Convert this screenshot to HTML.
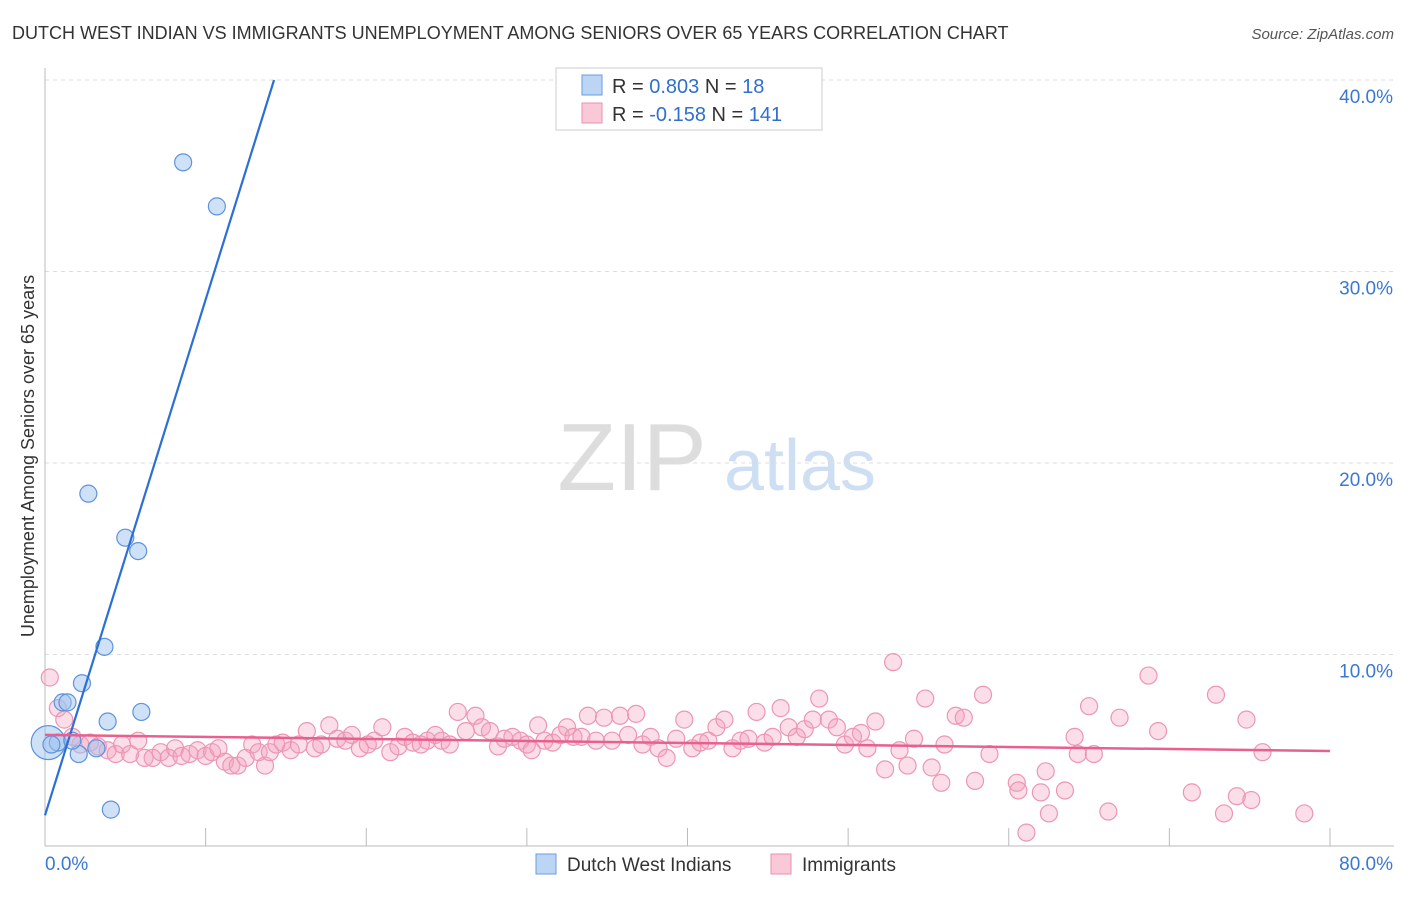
<!DOCTYPE html>
<html><head><meta charset="utf-8"><style>
body{margin:0;background:#fff;font-family:"Liberation Sans",sans-serif;}
svg text{font-family:"Liberation Sans",sans-serif;}
</style></head><body>
<svg id="c" width="1406" height="892">
<text x="12" y="39" font-size="18" fill="#333">DUTCH WEST INDIAN VS IMMIGRANTS UNEMPLOYMENT AMONG SENIORS OVER 65 YEARS CORRELATION CHART</text>
<text x="1394" y="39" font-size="15" fill="#555" font-style="italic" text-anchor="end">Source: ZipAtlas.com</text>
<text x="632" y="490" font-size="96" fill="#ddd" font-family="Liberation Serif" text-anchor="middle">ZIP</text>
<text x="800" y="490" font-size="72" fill="#cfdff3" text-anchor="middle">atlas</text>
<g id="grid"></g>
<g id="pts"></g>
<g id="lines"></g>
<text transform="translate(34,456) rotate(-90)" font-size="18" fill="#333" text-anchor="middle">Unemployment Among Seniors over 65 years</text>
<g>
<rect x="556" y="68" width="266" height="62" fill="#fff" stroke="#ccc"/>
<rect x="582" y="75" width="20" height="20" fill="#bcd5f5" stroke="#6a9de0"/>
<rect x="582" y="103" width="20" height="20" fill="#f9c9d8" stroke="#e890ae"/>
<text x="612" y="93" font-size="20" fill="#333">R = <tspan fill="#2f6fd0">0.803</tspan>   N = <tspan fill="#2f6fd0"> 18</tspan></text>
<text x="612" y="121" font-size="20" fill="#333">R = <tspan fill="#2f6fd0">-0.158</tspan>   N = <tspan fill="#2f6fd0">141</tspan></text>
</g>
<g>
<rect x="536" y="854" width="20" height="20" fill="#bcd5f5" stroke="#6a9de0"/>
<text x="567" y="871" font-size="19" fill="#333">Dutch West Indians</text>
<rect x="771" y="854" width="20" height="20" fill="#f9c9d8" stroke="#e890ae"/>
<text x="802" y="871" font-size="19" fill="#333">Immigrants</text>
</g>
</svg>
<script>
const xTicks=[0,10,20,30,40,50,60,70,80];
const yTicks=[10,20,30,40];
const blueX=[0.2,0.8,1.1,1.4,2.1,2.3,2.7,3.2,3.7,3.9,4.1,5.0,5.8,6.0,8.6,10.7,1.7,0.4];
const blueY=[5.4,5.4,7.5,7.5,4.8,8.5,18.4,5.1,10.4,6.5,1.9,16.1,15.4,7.0,35.7,33.4,5.5,5.3];
const pinkX=[0.3,0.8,1.2,1.7,2.2,2.8,3.3,3.9,4.4,4.8,5.3,5.8,6.2,6.7,7.2,7.7,8.1,8.5,9.0,9.5,10.0,10.4,10.8,11.2,11.6,12.0,12.5,12.9,13.3,13.7,14.0,14.4,14.8,15.3,15.8,16.3,16.8,17.2,17.7,18.2,18.7,19.1,19.6,20.1,20.5,21.0,21.5,22.0,22.4,22.9,23.4,23.8,24.3,24.7,25.2,25.7,26.2,26.8,27.2,27.7,28.2,28.6,29.1,29.6,30.0,30.3,30.7,31.1,31.6,32.1,32.5,32.9,33.4,33.8,34.3,34.8,35.3,35.8,36.3,36.8,37.2,37.7,38.2,38.7,39.3,39.8,40.3,40.8,41.3,41.8,42.3,42.8,43.3,43.8,44.3,44.8,45.3,45.8,46.3,46.8,47.3,47.8,48.2,48.8,49.3,49.8,50.3,50.8,51.2,51.7,52.3,52.8,53.2,53.7,54.1,54.8,55.2,55.8,56.0,56.7,57.2,57.9,58.4,58.8,60.5,60.6,61.1,62.0,62.3,62.5,63.5,64.1,64.3,65.0,65.3,66.2,66.9,68.7,69.3,71.4,72.9,73.4,74.2,74.8,75.1,75.8,78.4];
const pinkY=[8.8,7.2,6.6,5.7,5.3,5.4,5.2,5.0,4.8,5.3,4.8,5.5,4.6,4.6,4.9,4.6,5.1,4.7,4.8,5.0,4.7,4.9,5.1,4.4,4.2,4.2,4.6,5.3,4.9,4.2,4.9,5.3,5.4,5.0,5.3,6.0,5.1,5.3,6.3,5.6,5.5,5.8,5.1,5.3,5.5,6.2,4.9,5.2,5.7,5.4,5.3,5.5,5.8,5.5,5.3,7.0,6.0,6.8,6.2,6.0,5.2,5.6,5.7,5.5,5.3,5.0,6.3,5.5,5.4,5.8,6.2,5.7,5.7,6.8,5.5,6.7,5.5,6.8,5.8,6.9,5.3,5.7,5.1,4.6,5.6,6.6,5.1,5.4,5.5,6.2,6.6,5.1,5.5,5.6,7.0,5.4,5.7,7.2,6.2,5.7,6.1,6.6,7.7,6.6,6.2,5.3,5.7,5.9,5.1,6.5,4.0,9.6,5.0,4.2,5.6,7.7,4.1,3.3,5.3,6.8,6.7,3.4,7.9,4.8,3.3,2.9,0.7,2.8,3.9,1.7,2.9,5.7,4.8,7.3,4.8,1.8,6.7,8.9,6.0,2.8,7.9,1.7,2.6,6.6,2.4,4.9,1.7];
const blueLine=[0,1.6,14.26,40];
const pinkLine=[0,5.8,80,4.96];
const NS='http://www.w3.org/2000/svg';
const X0=45,X1=1330,Y0=846,Y40=80;
function sx(v){return X0+(X1-X0)*v/80;}
function sy(v){return Y0-(Y0-Y40)*v/40;}
function mk(tag,attrs,parent){const e=document.createElementNS(NS,tag);for(const k in attrs)e.setAttribute(k,attrs[k]);parent.appendChild(e);return e;}
const grid=document.getElementById('grid');
yTicks.forEach(t=>{
 const l=mk('line',{x1:X0,x2:1394,y1:sy(t),y2:sy(t),stroke:'#ddd','stroke-dasharray':'4,4'},grid);
 
 
 const tx=mk('text',{x:1393,y:sy(t)+23,'font-size':19,fill:'#3a78d4','text-anchor':'end'},grid);
 tx.textContent=t.toFixed(1)+'%';
 
 
});
const ax=mk('line',{x1:X0,x2:X0,y1:68,y2:Y0,stroke:'#bbb'},grid);


const bx=mk('line',{x1:X0,x2:1394,y1:Y0,y2:Y0,stroke:'#bbb'},grid);


xTicks.forEach(t=>{
 const l=mk('line',{x1:sx(t),x2:sx(t),y1:828,y2:Y0,stroke:'#bbb'},grid);
 
 
});
[[0,'start',45],[80,'end',1393]].forEach(a=>{
 const tx=mk('text',{x:a[2],y:870,'font-size':19,fill:'#3a78d4','text-anchor':a[1]},grid);
 tx.textContent=a[0].toFixed(1)+'%';
 
 
});
const pts=document.getElementById('pts');
pinkX.forEach((v,i)=>{
 const c=mk('circle',{cx:sx(v),cy:sy(pinkY[i]),r:8.5,fill:'rgba(244,160,188,0.35)',stroke:'#eb97b3','stroke-width':1.2},pts);
 
 
});
blueX.forEach((v,i)=>{
 const c=mk('circle',{cx:sx(v),cy:sy(blueY[i]),r:i===0?17:8.5,fill:'rgba(160,195,240,0.5)',stroke:'#5e93dc','stroke-width':1.2},pts);
 
 
});
const lines=document.getElementById('lines');
const bl=mk('line',{x1:sx(blueLine[0]),y1:sy(blueLine[1]),x2:sx(blueLine[2]),y2:sy(blueLine[3]),stroke:'#2c6fd6','stroke-width':2.2},lines);


const pl=mk('line',{x1:sx(pinkLine[0]),y1:sy(pinkLine[1]),x2:sx(pinkLine[2]),y2:sy(pinkLine[3]),stroke:'#e8608f','stroke-width':2.5},lines);


</script>
</body></html>
